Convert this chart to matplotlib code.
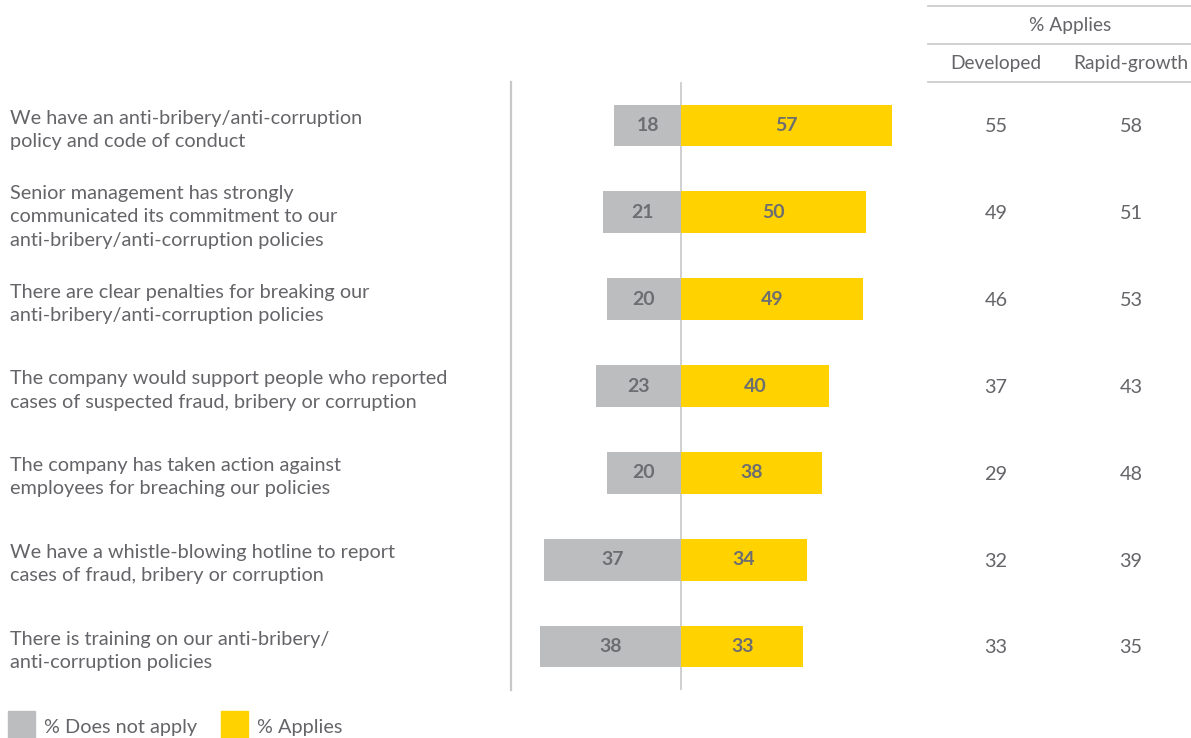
import matplotlib

matplotlib.use("Agg")
import matplotlib.pyplot as plt  # noqa: E402

statements = [
    "We have an anti-bribery/anti-corruption\npolicy and code of conduct",
    "Senior management has strongly\ncommunicated its commitment to our\nanti-bribery/anti-corruption policies",
    "There are clear penalties for breaking our\nanti-bribery/anti-corruption policies",
    "The company would support people who reported\ncases of suspected fraud, bribery or corruption",
    "The company has taken action against\nemployees for breaching our policies",
    "We have a whistle-blowing hotline to report\ncases of fraud, bribery or corruption",
    "There is training on our anti-bribery/\nanti-corruption policies",
]
does_not_apply = [18, 21, 20, 23, 20, 37, 38]
applies = [57, 50, 49, 40, 38, 34, 33]
developed = [55, 49, 46, 37, 29, 32, 33]
rapid_growth = [58, 51, 53, 43, 48, 39, 35]

GREY = "#bcbdbf"
YELLOW = "#ffd200"
TEXT = "#646469"
VALUE = "#6d6e71"
RULE = "#c8c8c8"

plt.rcParams["font.family"] = ["Lato", "DejaVu Sans"]

W, H = 1191, 738
fig = plt.figure(figsize=(W / 100, H / 100), dpi=100)


def fx(px):
    return px / W


def fy(py):
    return 1 - py / H


# bar panel: zero line sits between the two bars
ax = fig.add_axes([fx(511), fy(690), fx(920 - 511), fy(82) - fy(690)])
rows = list(range(len(statements)))
ax.barh(rows, [-v for v in does_not_apply], height=0.48, color=GREY)
ax.barh(rows, applies, height=0.48, color=YELLOW)
for r, n, a in zip(rows, does_not_apply, applies):
    ax.text(-n / 2, r, str(n), ha="center", va="center", color=VALUE,
            fontsize=14, fontweight="bold")
    ax.text(a / 2, r, str(a), ha="center", va="center", color=VALUE,
            fontsize=14, fontweight="bold")
ax.axvline(0, color=RULE, lw=1.2, zorder=0)
ax.set_xlim(-45.9, 64.5)
ax.set_ylim(6.5, -0.5)
ax.axis("off")
fig.add_artist(plt.Line2D([fx(511)] * 2, [fy(82), fy(690)], color=RULE, lw=1.6))

# statement labels, one per row
row_px = [125 + i * 86.83 for i in rows]
for py, s in zip(row_px, statements):
    fig.text(fx(10), fy(py + 5), s, ha="left", va="center", color=TEXT,
             fontsize=14.3, linespacing=1.45)

# small table of "applies" split by market type
for py in (6, 44, 82):
    fig.add_artist(plt.Line2D([fx(928), 1], [fy(py)] * 2, color=RULE, lw=1.2))
fig.text(fx(1070), fy(26), "% Applies", ha="center", va="center", color=TEXT, fontsize=13.8)
fig.text(fx(996), fy(64), "Developed", ha="center", va="center", color=TEXT, fontsize=13.8)
fig.text(fx(1131), fy(64), "Rapid-growth", ha="center", va="center", color=TEXT, fontsize=13.8)
for py, d, g in zip(row_px, developed, rapid_growth):
    fig.text(fx(996), fy(py + 2), str(d), ha="center", va="center", color=TEXT, fontsize=14.3)
    fig.text(fx(1131), fy(py + 2), str(g), ha="center", va="center", color=TEXT, fontsize=14.3)

# legend
fig.add_artist(plt.Rectangle((fx(8), fy(738)), fx(27), fy(711) - fy(738), color=GREY))
fig.text(fx(44), fy(727), "% Does not apply", ha="left", va="center", color=TEXT, fontsize=14.3)
fig.add_artist(plt.Rectangle((fx(221), fy(738)), fx(27), fy(711) - fy(738), color=YELLOW))
fig.text(fx(257), fy(727), "% Applies", ha="left", va="center", color=TEXT, fontsize=14.3)

fig.savefig("out.png", dpi=100)
